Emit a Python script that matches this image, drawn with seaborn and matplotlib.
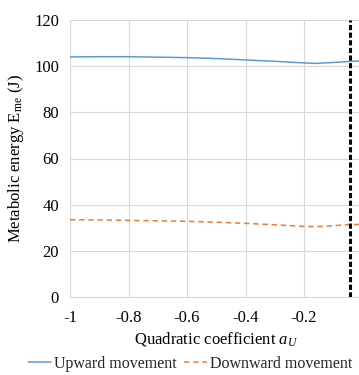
import matplotlib
matplotlib.use("Agg")
import matplotlib.pyplot as plt
import seaborn as sns
import pandas as pd
from matplotlib.lines import Line2D

# Data
a_u = [-1.0, -0.9, -0.8, -0.7, -0.6, -0.5, -0.4, -0.3, -0.2, -0.16, -0.1, -0.05, 0.0]
upward = [104.0, 104.1, 104.1, 103.9, 103.7, 103.3, 102.7, 102.1, 101.4, 101.2, 101.6, 102.0, 102.3]
downward = [33.5, 33.4, 33.2, 33.0, 32.8, 32.4, 31.9, 31.3, 30.6, 30.5, 30.9, 31.3, 31.5]
series_names = ["Upward movement", "Downward movement"]
marker_x = -0.043
x_ticks = [-1, -0.8, -0.6, -0.4, -0.2]
x_ticklabels = ["-1", "-0.8", "-0.6", "-0.4", "-0.2"]
y_ticks = [0, 20, 40, 60, 80, 100, 120]

sns.set_theme(style="whitegrid")
plt.rcParams['font.family'] = ['Liberation Serif', 'DejaVu Serif']
plt.rcParams['mathtext.fontset'] = 'custom'
plt.rcParams['mathtext.rm'] = 'Liberation Serif'
plt.rcParams['mathtext.it'] = 'Liberation Serif:italic'

df = pd.DataFrame({
    "a": a_u * 2,
    "E": upward + downward,
    "series": [series_names[0]] * len(a_u) + [series_names[1]] * len(a_u),
})

fig = plt.figure(figsize=(3.59, 3.75), dpi=100)
ax = fig.add_axes([70 / 359, 1 - 297 / 375, (362.5 - 70) / 359, 277 / 375])

palette = {series_names[0]: "#5B9BD5", series_names[1]: "#ED7D31"}
sns.lineplot(data=df, x="a", y="E", hue="series", style="series",
             palette=palette, dashes={series_names[0]: "", series_names[1]: (3.5, 2.5)},
             linewidth=1.1, ax=ax, legend=False)

ax.axvline(marker_x, color="black", linestyle=(0, (1.7, 0.8)), linewidth=2.2, zorder=5)

ax.set_xlim(-1, 0)
ax.set_ylim(0, 120)
ax.set_xticks(x_ticks)
ax.set_xticklabels(x_ticklabels)
ax.set_yticks(y_ticks)
ax.tick_params(axis="both", labelsize=12, length=0, colors="black")
ax.tick_params(axis="x", pad=9)
ax.tick_params(axis="y", pad=8)
ax.grid(True, color="#D9D9D9", linewidth=0.8)
for s in ["top", "right", "left"]:
    ax.spines[s].set_visible(False)
ax.spines["bottom"].set_color("#D9D9D9")
ax.spines["bottom"].set_linewidth(0.8)

ax.set_xlabel(r"Quadratic coefficient $a_U$", fontsize=12, color="black", labelpad=3)
ax.set_ylabel(r"Metabolic energy E$_{\mathrm{me}}$ (J)", fontsize=12, color="black", labelpad=6)

handles = [Line2D([0], [0], color=palette[series_names[0]], linewidth=1.1),
           Line2D([0], [0], color=palette[series_names[1]], linewidth=1.1, linestyle=(0, (3.5, 2.5)))]
fig.legend(handles, series_names, loc="center", bbox_to_anchor=(0.53, 1 - 364 / 375),
           ncol=2, frameon=False, fontsize=11.5, handlelength=1.4, handletextpad=0.2,
           columnspacing=0.5, borderaxespad=0, borderpad=0)

fig.savefig("out.png", dpi=100)
